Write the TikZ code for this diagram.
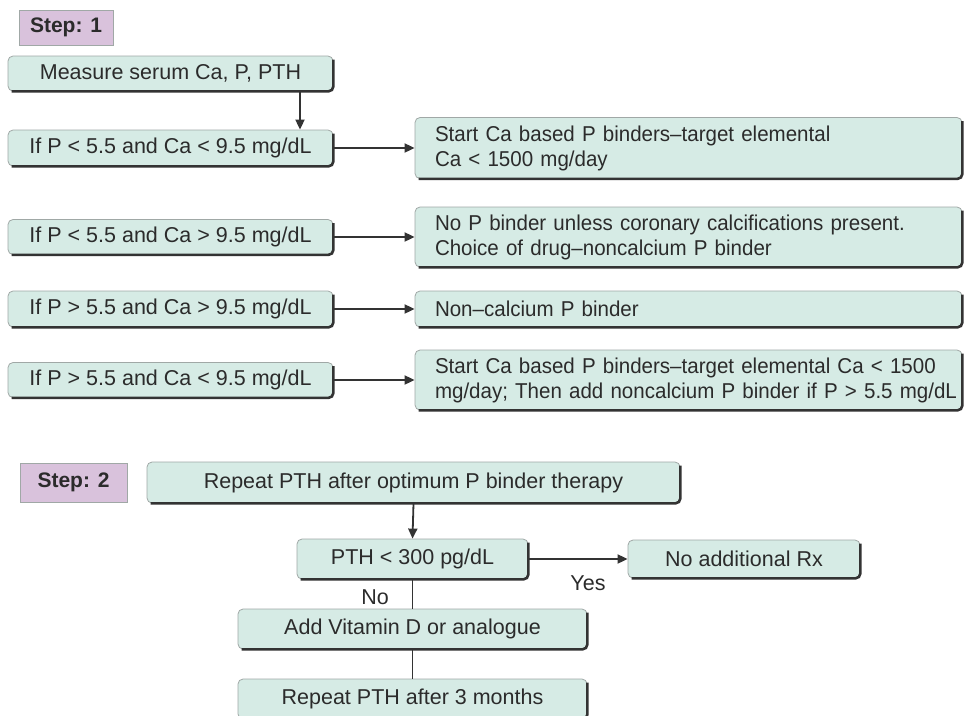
\documentclass[tikz,border=0pt]{standalone}
\usepackage{fontspec}
\setmainfont{Liberation Sans}
\newfontfamily\narrowsans[FakeStretch=0.955]{Liberation Sans}
\usetikzlibrary{arrows.meta}
\definecolor{boxfill}{HTML}{D6EBE5}
\definecolor{boxline}{HTML}{A0A8A6}
\definecolor{edgecol}{HTML}{333333}
\definecolor{stepfill}{HTML}{D9C2DC}
\definecolor{txt}{HTML}{2B2B2B}
\begin{document}
\begin{tikzpicture}[x=1pt,y=-1pt,
 box/.style={draw=boxline, fill=boxfill, line width=0.8pt, rounded corners=5pt, inner sep=0pt, text=txt, font=\fontsize{21.5}{25}\selectfont},
 lbox/.style={box, inner xsep=20pt, align=left, font=\fontsize{21.5}{25}\selectfont\narrowsans},
 stepbox/.style={draw=boxline, fill=stepfill, line width=0.8pt, inner sep=0pt, font=\fontsize{21}{25}\selectfont\bfseries, text=txt},
 edge/.style={draw=edgecol, line width=2.6pt, rounded corners=5pt},
 arr/.style={draw=edgecol, line width=1.8pt, -{Triangle[length=10pt,width=9pt]}},
 conn/.style={draw=edgecol, line width=1.8pt},
 lab/.style={font=\fontsize{21.5}{25}\selectfont, text=txt}]
\useasboundingbox (0,0) rectangle (964,715);
% Step 1
\node[stepbox, minimum width=94pt, minimum height=35pt] (s1) at (66,27.5) {Step: 1};
\node[box, minimum width=325pt, minimum height=35pt] (m) at (170.5,73.5) {Measure serum Ca, P, PTH};
\node[box, minimum width=325pt, minimum height=36pt] (c1) at (170.5,148) {If P < 5.5 and Ca < 9.5 mg/dL};
\node[box, minimum width=325pt, minimum height=35pt] (c2) at (170.5,237) {If P < 5.5 and Ca > 9.5 mg/dL};
\node[box, minimum width=325pt, minimum height=36pt] (c3) at (170.5,309) {If P > 5.5 and Ca > 9.5 mg/dL};
\node[box, minimum width=325pt, minimum height=35pt] (c4) at (170.5,380) {If P > 5.5 and Ca < 9.5 mg/dL};
\node[lbox, text width=507pt, minimum height=61pt] (r1) at (688.5,148) {Start Ca based P binders–target elemental\\Ca < 1500 mg/day};
\node[lbox, text width=507pt, minimum height=60pt] (r2) at (688.5,237) {No P binder unless coronary calcifications present.\\Choice of drug–noncalcium P binder};
\node[lbox, text width=507pt, minimum height=36pt] (r3) at (688.5,309) {Non–calcium P binder};
\node[lbox, text width=507pt, minimum height=60pt] (r4) at (688.5,380) {\makebox[507pt][l]{Start Ca based P binders–target elemental Ca < 1500}\\\makebox[507pt][l]{mg/day; Then add noncalcium P binder if P > 5.5 mg/dL}};
% Step 2
\node[stepbox, minimum width=107pt, minimum height=39pt] (s2) at (73.5,482.5) {Step: 2};
\node[box, minimum width=533pt, minimum height=41pt] (p0) at (413.5,482.5) {Repeat PTH after optimum P binder therapy};
\node[box, minimum width=231pt, minimum height=40pt] (pth) at (412.5,559) {PTH < 300 pg/dL};
\node[box, minimum width=232pt, minimum height=38pt] (nrx) at (744,559) {No additional Rx};
\node[box, minimum width=349pt, minimum height=40pt] (vd) at (412.5,629) {Add Vitamin D or analogue};
\node[box, minimum width=349pt, minimum height=40pt] (rp) at (412.5,699) {Repeat PTH after 3 months};
% dark right/bottom edges
\foreach \n in {m,c1,c2,c3,c4,r1,r2,r3,r4,p0,pth,nrx,vd,rp}
  \draw[edge] ([yshift=-4pt]\n.north east) -- (\n.south east) -- ([xshift=4pt]\n.south west);
% connectors
\draw[arr] ([xshift=129.5pt]m.south) -- ([xshift=129.5pt]c1.north);
\draw[arr] (c1.east) -- (r1.west);
\draw[arr] (c2.east) -- (r2.west);
\draw[arr] (c3.east) -- (r3.west);
\draw[arr] (c4.east) -- (r4.west);
\draw[arr] (p0.south) -- (pth.north);
\draw[arr] (pth.east) -- (nrx.west);
\draw[conn] (pth.south) -- (vd.north);
\draw[conn] (vd.south) -- (rp.north);
\node[lab] (yes) at (588,583) {Yes};
\node[lab] (no) at (375,597) {No};
\end{tikzpicture}
\end{document}
